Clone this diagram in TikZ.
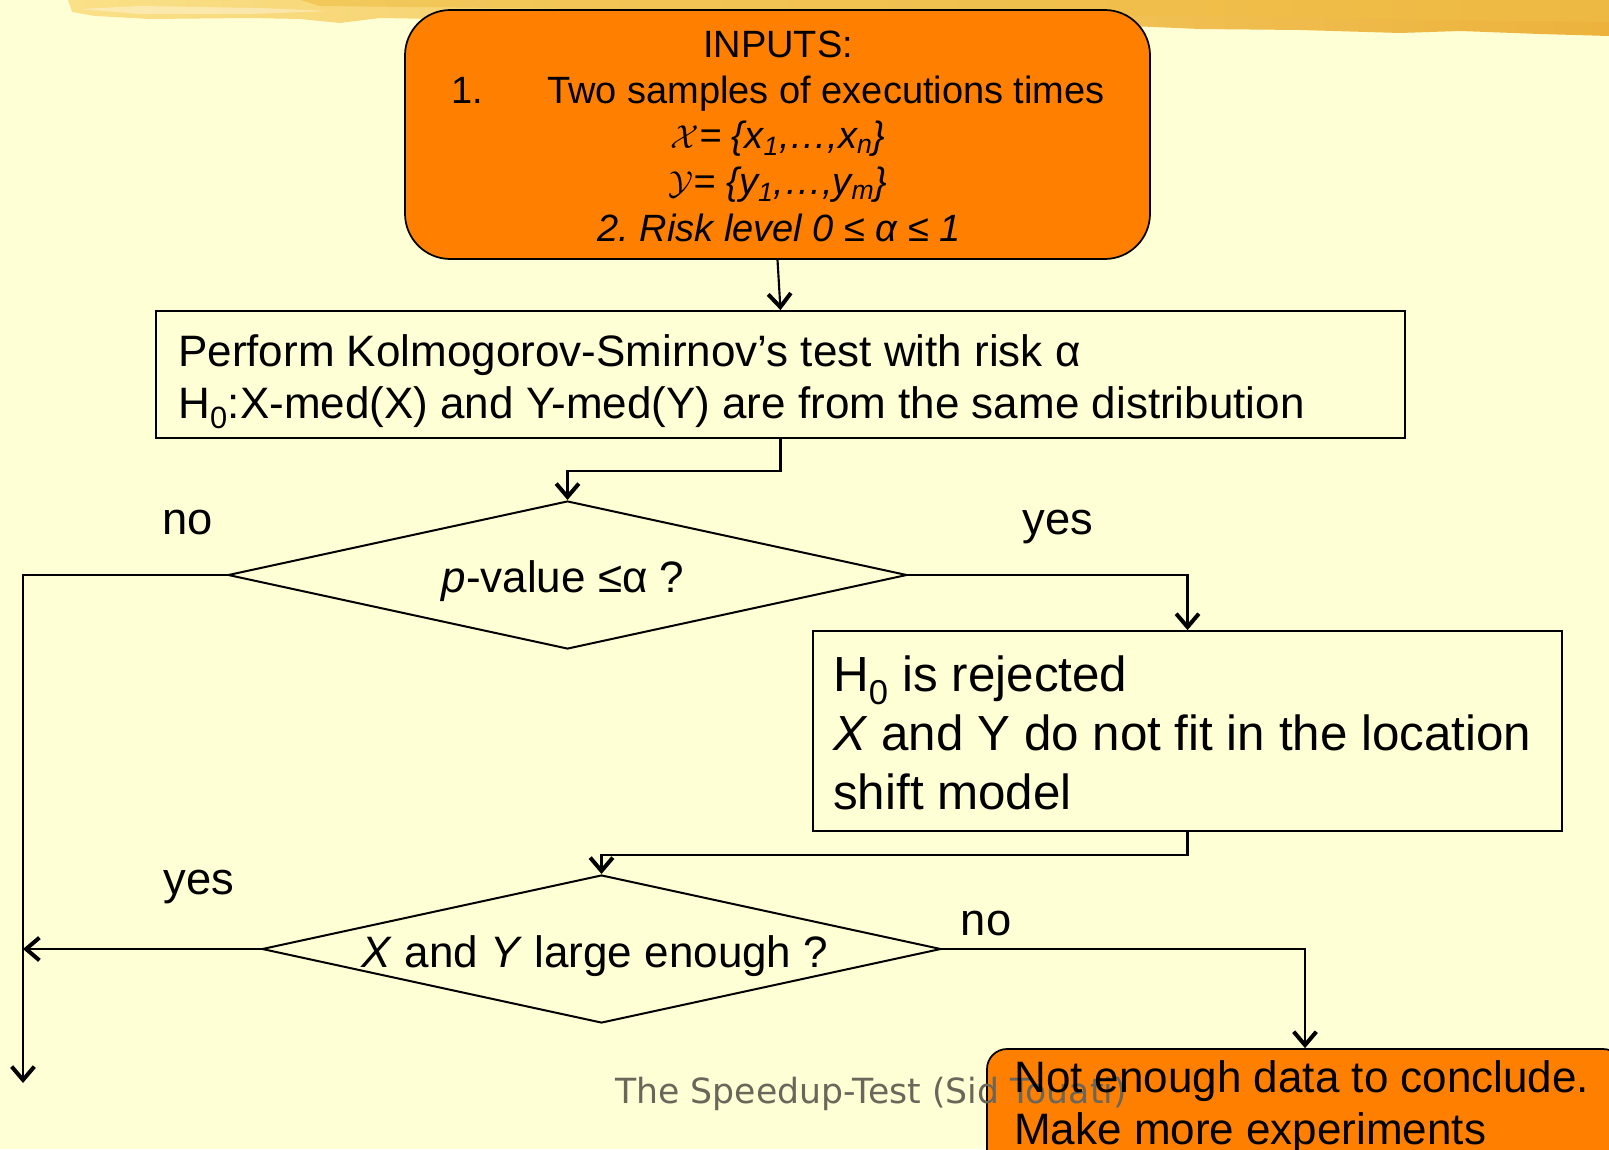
\documentclass[tikz,border=0pt]{standalone}
\usepackage{fontspec}
\setmainfont{Liberation Sans}
\newfontfamily\footfont{DejaVu Sans}
\usetikzlibrary{shapes.geometric,arrows.meta}
\frenchspacing

\definecolor{paper}{RGB}{255,255,213}
\definecolor{boxorange}{RGB}{255,128,0}
\definecolor{bandgold}{RGB}{240,190,70}
\definecolor{bandlight}{RGB}{250,224,135}
\definecolor{banddeep}{RGB}{236,178,60}
\definecolor{footgray}{RGB}{107,102,90}

\tikzset{
  connector/.style={line width=1.6pt},
  arrowline/.style={connector, -{Straight Barb[length=10pt,width=17pt,line width=3pt]}},
  procbox/.style={draw, line width=1.3pt, rectangle, inner sep=0pt},
  termbox/.style={procbox, fill=boxorange},
  decision/.style={draw, line width=1.5pt, diamond, inner sep=0pt, fill=paper,
                   minimum width=509.25pt, minimum height=111pt},
  inputtext/.style={inner sep=0pt, font=\fontsize{28.5}{34}\selectfont},
  bodytext/.style={inner sep=0pt, font=\fontsize{33}{39}\selectfont, align=left},
  bigtext/.style={inner sep=0pt, font=\fontsize{37}{44}\selectfont, align=left},
  branch/.style={inner sep=0pt, font=\fontsize{34}{40}\selectfont},
}

\begin{document}
\begin{tikzpicture}[x=0.75pt,y=-0.75pt]
  % page and background
  \useasboundingbox (0,0) rectangle (1609,1149);
  \fill[paper] (0,0) rectangle (1609,1149);
  \clip (0,0) rectangle (1609,1149);

  % brush-stroke band along the top edge
  \shade[left color=bandlight, right color=banddeep]
    (68,0) -- (1609,0) -- (1609,36) -- (1540,34) -- (1460,31) -- (1400,33)
    -- (1300,30) -- (1200,29) -- (1130,26) -- (900,22) -- (600,22) -- (380,18)
    -- (340,23) -- (300,19) -- (250,18) -- (150,19) -- (95,16) -- (72,12) -- cycle;
  \fill[bandgold, opacity=0.6]
    (300,0) -- (1609,0) -- (1609,22) -- (1450,20) -- (1200,16) -- (800,12)
    -- (500,8) -- (320,6) -- cycle;
  \fill[white, opacity=0.35]
    (80,9) -- (140,6) -- (260,8) -- (330,11) -- (250,14) -- (140,14) -- cycle;

  % boxes
  \node[termbox, rounded corners=34pt, minimum width=558.75pt, minimum height=186.75pt]
    (inputs) at (777.5,134.5) {};
  \node[procbox, fill=paper, minimum width=936.75pt, minimum height=95.25pt]
    (ks) at (780.5,374.5) {};
  \node[decision] (d1) at (567.5,575) {};
  \node[procbox, fill=paper, minimum width=561.75pt, minimum height=150pt]
    (rej) at (1187.5,731) {};
  \node[decision] (d2) at (601.5,949) {};
  \node[termbox, rounded corners=15pt, minimum width=477pt, minimum height=90pt]
    (ne) at (1305,1109) {};

  % free ends of the left-hand connectors
  \coordinate (leftend) at (23,1083);
  \coordinate (yesend) at (23,949);

  % connectors
  \draw[arrowline] (inputs.south) -- (ks.north);
  \draw[arrowline] (ks.south) -- ++(0,32) -| (d1.north);
  \draw[arrowline] (d1.west) -| (leftend);
  \draw[arrowline] (d1.east) -| (rej.north);
  \draw[arrowline] (rej.south) -- ++(0,23) -| (d2.north);
  \draw[arrowline] (d2.west) -- (yesend);
  \draw[arrowline] (d2.east) -| (ne.north);

  % inputs text
  \node[inputtext, anchor=mid] (inTitle) at (778,54) {INPUTS:};
  \node[inputtext, anchor=mid west] (inNum) at (451,100) {1.};
  \node[inputtext, anchor=mid west] (inSamples) at (547,100) {Two samples of executions times};
  \node[inputtext, anchor=mid] (inX) at (778,145)
    {\itshape $\mathcal{X}$= \{x\textsubscript{1},\dots,x\textsubscript{n}\}};
  \node[inputtext, anchor=mid] (inY) at (778,191)
    {\itshape $\mathcal{Y}$= \{y\textsubscript{1},\dots,y\textsubscript{m}\}};
  \node[inputtext, anchor=mid] (inRisk) at (779,238) {\itshape 2. Risk level 0 ≤ α ≤ 1};

  % test box text
  \node[bodytext, anchor=west] (ksText) at (178,382)
    {Perform Kolmogorov-Smirnov’s test with risk α\\
     H\textsubscript{0}:X-med(X) and Y-med(Y) are from the same distribution};

  % decision labels
  \node[bodytext, anchor=mid] (d1Text) at (563,589) {\textit{p}-value ≤α ?};
  \node[bodytext, anchor=mid] (d2Text) at (595,964) {\textit{X} and \textit{Y} large enough ?};

  % branch labels
  \node[branch, anchor=mid] (noA) at (188,531) {no};
  \node[branch, anchor=mid] (yesA) at (1058,531) {yes};
  \node[branch, anchor=mid] (yesB) at (199,891) {yes};
  \node[branch, anchor=mid] (noB) at (986,932) {no};

  % rejection box text
  \node[bigtext, anchor=west] (rejText) at (833,733)
    {H\textsubscript{0} is rejected\\
     \textit{X} and Y do not fit in the location\\
     shift model};

  % footer
  \node[inner sep=0pt, anchor=mid, text=footgray, font=\footfont\fontsize{26}{30}\selectfont]
    (footer) at (871,1100) {The Speedup-Test (Sid Touati)};

  % conclusion box text
  \node[bodytext, anchor=west] (neText) at (1014,1107)
    {Not enough data to conclude.\\Make more experiments};
\end{tikzpicture}
\end{document}
